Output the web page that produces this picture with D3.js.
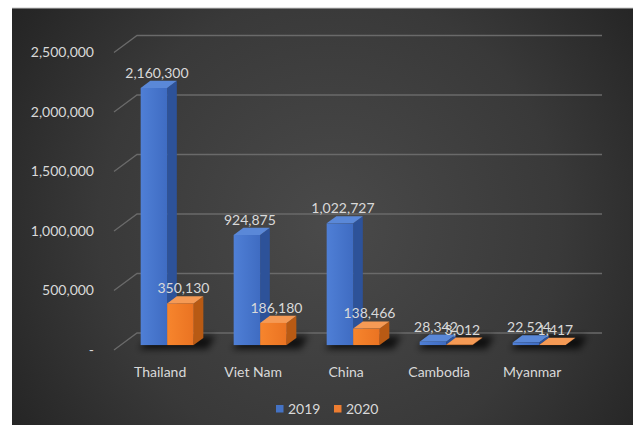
<!DOCTYPE html>
<html><head><meta charset="utf-8">
<script src="https://cdn.jsdelivr.net/npm/d3@7"></script>
<style>body{margin:0;background:#fff}svg{display:block}</style>
</head><body><svg id="c" width="633" height="425"></svg>
<script>
const categories = ["Thailand", "Viet Nam", "China", "Cambodia", "Myanmar"];
const series = ["2019", "2020"];
const values2019 = [2160300, 924875, 1022727, 28342, 22524];
const values2020 = [350130, 186180, 138466, 3012, 1417];
const yTicks = [0, 500000, 1000000, 1500000, 2000000, 2500000];
const tickLabels = ["-", "500,000", "1,000,000", "1,500,000", "2,000,000", "2,500,000"];

const svg = d3.select("#c");
const defs = svg.append("defs");

// background
const rg = defs.append("radialGradient").attr("id", "bg")
  .attr("gradientUnits", "userSpaceOnUse").attr("cx", 330).attr("cy", 225).attr("r", 420);
rg.append("stop").attr("offset", "0").attr("stop-color", "#4a4a4a");
rg.append("stop").attr("offset", "0.55").attr("stop-color", "#393939");
rg.append("stop").attr("offset", "1").attr("stop-color", "#1f1f1f");
svg.append("rect").attr("x", 12).attr("y", 8).attr("width", 621).attr("height", 417).attr("fill", "url(#bg)");
svg.append("line").attr("x1", 12).attr("x2", 633).attr("y1", 8).attr("y2", 8).attr("stroke", "#c8c8c8").attr("stroke-width", 1);

const blur = defs.append("filter").attr("id", "blur").attr("x", "-50%").attr("y", "-50%").attr("width", "200%").attr("height", "200%");
blur.append("feGaussianBlur").attr("stdDeviation", 3.5);

function grad(id, c1, c2) {
  const g = defs.append("linearGradient").attr("id", id).attr("x1", 0).attr("x2", 1).attr("y1", 0).attr("y2", 0);
  g.append("stop").attr("offset", 0).attr("stop-color", c1);
  g.append("stop").attr("offset", 1).attr("stop-color", c2);
}
grad("g2019", "#4f7fd6", "#3f6cc2");
grad("g2020", "#f7852d", "#ea7322");
const style = {
  "2019": {front: "url(#g2019)", top: "#5a88d8", side: "#2d5299"},
  "2020": {front: "url(#g2020)", top: "#f59a55", side: "#b85a14"}
};

// 3D geometry
const floorFrontY = 350, floorLeftX = 114, DX = 23, DY = -17, wallRight = 602;
const t0 = 0.29, t1 = 0.71;
const baseY = floorFrontY + DY * t0;
const bdx = DX * (t1 - t0), bdy = DY * (t1 - t0);

const y = d3.scaleLinear().domain([0, 2500000]).range([0, 297.5]);
const x0 = d3.scaleBand().domain(categories).range([floorLeftX + DX * t0, wallRight - DX * (1 - t0)])
  .paddingInner(0.43).paddingOuter(0.215);
const x1 = d3.scaleBand().domain(series).range([0, x0.bandwidth()]);

const font = "Lato, 'Open Sans', sans-serif";
const txt = "#d9d9d9";

// gridlines
const grid = svg.append("g");
yTicks.forEach((v, i) => {
  const h = y(v);
  grid.append("path")
    .attr("d", `M${floorLeftX},${floorFrontY - h}L${floorLeftX + DX},${floorFrontY + DY - h}L${wallRight},${floorFrontY + DY - h}`)
    .attr("fill", "none").attr("stroke", "#6a6a6a").attr("stroke-width", 1.3);
  svg.append("text").attr("x", 94).attr("y", floorFrontY - h).attr("dy", "0.35em")
    .attr("text-anchor", "end").attr("font-family", font).attr("font-size", 14).attr("fill", txt)
    .text(tickLabels[i]);
});

const data = categories.map((c, i) => ({cat: c, vals: [
  {s: "2019", v: values2019[i]}, {s: "2020", v: values2020[i]}]}));

// shadows
const sh = svg.append("g").attr("filter", "url(#blur)");
data.forEach(d => {
  const gx = x0(d.cat);
  const w = x0.bandwidth();
  sh.append("path")
    .attr("d", `M${gx - 2},${baseY + 4}L${gx + w + 14},${baseY + 4}L${gx + w + bdx + 12},${baseY + bdy - 2}L${gx + bdx},${baseY + bdy - 2}Z`)
    .attr("fill", "#000").attr("opacity", 0.75);
});

// bars
const bars = svg.append("g");
data.forEach(d => {
  d.vals.forEach(b => {
    const xl = x0(d.cat) + x1(b.s), w = x1.bandwidth(), h = y(b.v);
    const top = baseY - h;
    const st = style[b.s];
    bars.append("path").attr("d", `M${xl + w},${top}L${xl + w + bdx},${top + bdy}L${xl + w + bdx},${baseY + bdy}L${xl + w},${baseY}Z`).attr("fill", st.side);
    bars.append("path").attr("d", `M${xl},${top}L${xl + bdx},${top + bdy}L${xl + w + bdx},${top + bdy}L${xl + w},${top}Z`).attr("fill", st.top);
    bars.append("rect").attr("x", xl).attr("y", top).attr("width", w).attr("height", h).attr("fill", st.front);
  });
});

// value labels
data.forEach(d => {
  d.vals.forEach(b => {
    const xl = x0(d.cat) + x1(b.s), w = x1.bandwidth(), h = y(b.v);
    svg.append("text").attr("x", xl + w / 2 + 3).attr("y", baseY - h - 15).attr("dy", "0.35em")
      .attr("text-anchor", "middle").attr("font-family", font).attr("font-size", 14).attr("fill", txt)
      .text(d3.format(",")(b.v));
  });
});

// category labels
categories.forEach(c => {
  svg.append("text").attr("x", x0(c) + x0.bandwidth() / 2 - 7).attr("y", 372).attr("dy", "0.35em")
    .attr("text-anchor", "middle").attr("font-family", font).attr("font-size", 14).attr("fill", txt).text(c);
});

// legend
const legColors = {"2019": "#4472c4", "2020": "#ed7d31"};
const legX = {"2019": 276, "2020": 334};
series.forEach(s => {
  svg.append("rect").attr("x", legX[s]).attr("y", 405).attr("width", 7.5).attr("height", 7.5).attr("fill", legColors[s]);
  svg.append("text").attr("x", legX[s] + 12).attr("y", 409).attr("dy", "0.35em")
    .attr("font-family", font).attr("font-size", 14).attr("fill", txt).text(s);
});
</script></body></html>
